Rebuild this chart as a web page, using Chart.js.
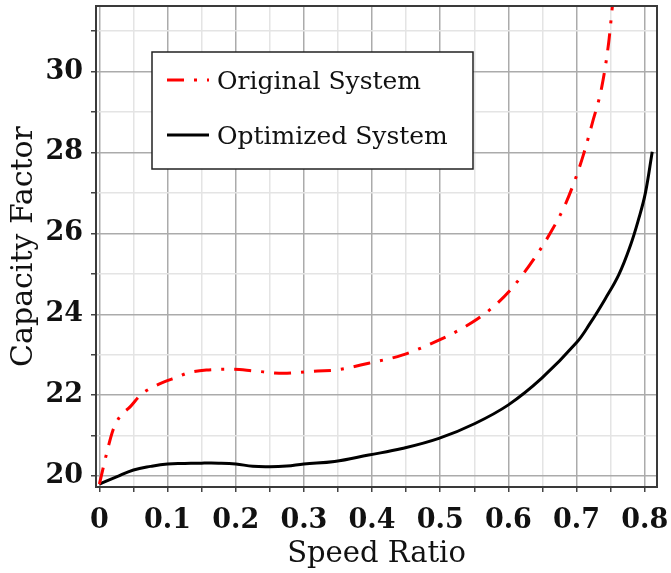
<!DOCTYPE html>
<html>
<head>
<meta charset="utf-8">
<title>Capacity Factor vs Speed Ratio</title>
<script src="https://cdn.jsdelivr.net/npm/chart.js@4/dist/chart.umd.min.js"></script>
<style>
  html, body { margin: 0; padding: 0; background: #ffffff; }
  #wrap { width: 671px; height: 573px; }
</style>
</head>
<body>
<div id="wrap"><canvas id="chart" width="671" height="573"></canvas></div>
<script>
// Series: capacity factor against speed ratio
const seriesNames = ['Original System', 'Optimized System'];

const originalRatio  = [0, 0.01, 0.02, 0.03, 0.045, 0.06, 0.075, 0.095, 0.113, 0.13, 0.157, 0.196, 0.226, 0.27, 0.32, 0.346, 0.395, 0.444, 0.498, 0.532, 0.556, 0.581, 0.605, 0.64, 0.664, 0.682, 0.696, 0.71, 0.723, 0.737, 0.747, 0.752, 0.756];
const originalFactor = [19.8, 20.52, 21.14, 21.47, 21.71, 22.0, 22.17, 22.33, 22.44, 22.55, 22.62, 22.64, 22.6, 22.54, 22.6, 22.62, 22.79, 22.99, 23.36, 23.65, 23.9, 24.23, 24.64, 25.43, 26.08, 26.66, 27.24, 27.94, 28.72, 29.62, 30.7, 31.52, 32.2];

const optimizedRatio  = [0, 0.025, 0.05, 0.075, 0.1, 0.125, 0.15, 0.175, 0.2, 0.225, 0.25, 0.275, 0.3, 0.345, 0.395, 0.444, 0.498, 0.551, 0.6, 0.649, 0.7, 0.72, 0.742, 0.762, 0.779, 0.791, 0.801, 0.811];
const optimizedFactor = [19.8, 19.98, 20.15, 20.24, 20.3, 20.31, 20.32, 20.32, 20.3, 20.24, 20.23, 20.25, 20.3, 20.36, 20.52, 20.68, 20.93, 21.3, 21.76, 22.42, 23.3, 23.78, 24.38, 24.98, 25.7, 26.35, 27.0, 28.02];

// Axis ticks: labelled (major) and unlabelled (minor)
const xMajorTicks = [0, 0.1, 0.2, 0.3, 0.4, 0.5, 0.6, 0.7, 0.8];
const xTickLabels = ['0', '0.1', '0.2', '0.3', '0.4', '0.5', '0.6', '0.7', '0.8'];
const xMinorTicks = [0.05, 0.15, 0.25, 0.35, 0.45, 0.55, 0.65, 0.75];

const yMajorTicks = [20, 22, 24, 26, 28, 30];
const yTickLabels = ['20', '22', '24', '26', '28', '30'];
const yMinorTicks = [21, 23, 25, 27, 29, 31];

const toPoints = (xs, ys) => xs.map((x, i) => ({ x: x, y: ys[i] }));
const findIndex = (list, v) => list.findIndex(m => Math.abs(m - v) < 1e-9);

const MAJOR_GRID = '#ababab';
const MINOR_GRID = '#e4e4e4';
const FRAME = '#3a3a3a';
const SERIF = '"DejaVu Serif", "Liberation Serif", serif';

// Frame around the plotting area (top and right sides included)
const framePlugin = {
  id: 'frame',
  afterDatasetsDraw(chart) {
    const { ctx, chartArea: a } = chart;
    ctx.save();
    ctx.strokeStyle = FRAME;
    ctx.lineWidth = 2;
    ctx.strokeRect(a.left, a.top, a.right - a.left, a.bottom - a.top);
    ctx.restore();
  }
};

// Boxed legend inside the plotting area, built from the datasets
const boxLegendPlugin = {
  id: 'boxLegend',
  afterDatasetsDraw(chart, args, opts) {
    const { ctx } = chart;
    const { left, top, width, height, rowGap, firstRow, sampleX, sampleLen, textX } = opts;
    ctx.save();
    ctx.fillStyle = '#ffffff';
    ctx.fillRect(left, top, width, height);
    ctx.strokeStyle = '#222222';
    ctx.lineWidth = 1.5;
    ctx.strokeRect(left, top, width, height);
    chart.data.datasets.forEach((ds, i) => {
      const rowY = top + firstRow + i * rowGap;
      ctx.beginPath();
      ctx.strokeStyle = ds.borderColor;
      ctx.lineWidth = ds.borderWidth;
      ctx.setLineDash(ds.borderDash || []);
      ctx.moveTo(sampleX, rowY);
      ctx.lineTo(sampleX + sampleLen, rowY);
      ctx.stroke();
      ctx.setLineDash([]);
      ctx.fillStyle = '#111111';
      ctx.font = '25px ' + SERIF;
      ctx.textBaseline = 'middle';
      ctx.textAlign = 'left';
      ctx.fillText(ds.label, textX, rowY + 2);
    });
    ctx.restore();
  }
};

const tickFont = { family: SERIF, size: 27, weight: 'bold' };

new Chart(document.getElementById('chart'), {
  type: 'scatter',
  data: {
    datasets: [
      {
        label: seriesNames[0],
        data: toPoints(originalRatio, originalFactor),
        showLine: true,
        borderColor: '#ff0000',
        borderWidth: 3,
        borderDash: [17, 10, 3, 10],
        borderCapStyle: 'butt',
        pointRadius: 0,
        cubicInterpolationMode: 'monotone',
        fill: false
      },
      {
        label: seriesNames[1],
        data: toPoints(optimizedRatio, optimizedFactor),
        showLine: true,
        borderColor: '#000000',
        borderWidth: 3,
        pointRadius: 0,
        tension: 0.4,
        fill: false
      }
    ]
  },
  options: {
    responsive: false,
    animation: false,
    devicePixelRatio: 1,
    layout: { padding: { top: 6, right: 14, left: 0, bottom: 0 } },
    plugins: {
      legend: { display: false },
      tooltip: { enabled: false },
      boxLegend: {
        left: 152, top: 52, width: 321, height: 117,
        firstRow: 28, rowGap: 55,
        sampleX: 167, sampleLen: 42, textX: 217
      }
    },
    scales: {
      x: {
        type: 'linear',
        min: -0.005,
        max: 0.818,
        afterBuildTicks(scale) {
          scale.ticks = xMajorTicks.concat(xMinorTicks).sort((a, b) => a - b).map(v => ({ value: v }));
        },
        afterFit(scale) {
          scale.height = 86;
          scale.paddingLeft = 0;
          scale.paddingRight = 0;
        },
        ticks: {
          autoSkip: false,
          maxRotation: 0,
          padding: 13,
          color: '#111111',
          font: tickFont,
          callback(value) {
            const i = findIndex(xMajorTicks, value);
            return i >= 0 ? xTickLabels[i] : '';
          }
        },
        grid: {
          color: ctx => (ctx.tick && findIndex(xMajorTicks, ctx.tick.value) >= 0) ? MAJOR_GRID : MINOR_GRID,
          lineWidth: 1.5,
          tickLength: 5,
          tickColor: '#444444',
          tickWidth: 1.5
        },
        border: { display: true, color: FRAME, width: 2 },
        title: {
          display: true,
          text: 'Speed Ratio',
          color: '#111111',
          font: { family: SERIF, size: 29 },
          padding: { top: 0, bottom: 1 }
        }
      },
      y: {
        type: 'linear',
        min: 19.73,
        max: 31.62,
        afterBuildTicks(scale) {
          scale.ticks = yMajorTicks.concat(yMinorTicks).sort((a, b) => a - b).map(v => ({ value: v }));
        },
        afterFit(scale) {
          scale.width = 96;
          scale.paddingTop = 0;
          scale.paddingBottom = 0;
        },
        ticks: {
          autoSkip: false,
          padding: 8,
          color: '#111111',
          font: tickFont,
          callback(value) {
            const i = findIndex(yMajorTicks, value);
            return i >= 0 ? yTickLabels[i] : '';
          }
        },
        grid: {
          color: ctx => (ctx.tick && findIndex(yMajorTicks, ctx.tick.value) >= 0) ? MAJOR_GRID : MINOR_GRID,
          lineWidth: 1.5,
          tickLength: 5,
          tickColor: '#444444',
          tickWidth: 1.5
        },
        border: { display: true, color: FRAME, width: 2 },
        title: {
          display: true,
          text: 'Capacity Factor',
          color: '#111111',
          font: { family: SERIF, size: 30 },
          padding: { top: 6, bottom: 0 }
        }
      }
    }
  },
  plugins: [framePlugin, boxLegendPlugin]
});
</script>
</body>
</html>
